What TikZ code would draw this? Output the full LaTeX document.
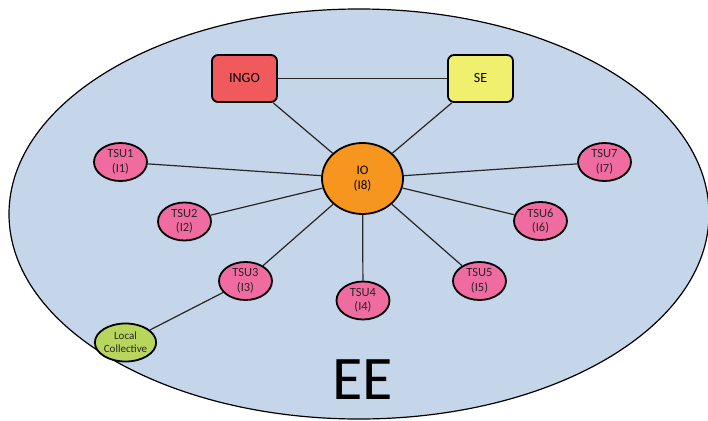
\documentclass[tikz,border=0pt]{standalone}
\usepackage{fontspec}
\setmainfont{Carlito}
\usetikzlibrary{shapes.geometric}
\definecolor{bgblue}{HTML}{C5D5EA}
\definecolor{tsupink}{HTML}{F06CA0}
\definecolor{ioorange}{HTML}{F7961F}
\definecolor{ingored}{HTML}{F05A5C}
\definecolor{seyellow}{HTML}{F0F06E}
\definecolor{lcgreen}{HTML}{B8D65C}
\begin{document}
\begin{tikzpicture}[x=1pt,y=-1pt,
  tsu/.style={ellipse,draw=black,line width=1.8pt,fill=tsupink,minimum width=53pt,minimum height=38pt,inner sep=0pt,align=center,font=\fontsize{12.5}{14.5}\selectfont,text=black!85},
  orgbox/.style={rectangle,rounded corners=6pt,draw=black,line width=1.8pt,minimum width=65pt,minimum height=47pt,inner sep=0pt,font=\fontsize{14}{16}\selectfont},
  link/.style={draw=black!85,line width=1.2pt}]
\useasboundingbox (0,0) rectangle (708,420);
\draw[fill=bgblue,draw=black,line width=1.2pt] (359,214) ellipse [x radius=350, y radius=205];
\node[orgbox,fill=ingored] (ingo) at (244.5,78.5) {INGO};
\node[orgbox,fill=seyellow] (se) at (480.5,78.5) {SE};
\node[ellipse,draw=black,line width=1.8pt,fill=ioorange,minimum width=81pt,minimum height=71pt,inner sep=0pt,align=center,font=\fontsize{13}{15.5}\selectfont] (io) at (362.5,178.5) {IO\\(I8)};
\node[tsu] (t1) at (120.5,162) {TSU1\\(I1)};
\node[tsu] (t2) at (184.5,221.5) {TSU2\\(I2)};
\node[tsu] (t3) at (245.5,281) {TSU3\\(I3)};
\node[tsu] (t4) at (363,300.5) {TSU4\\(I4)};
\node[tsu] (t5) at (479.5,281) {TSU5\\(I5)};
\node[tsu] (t6) at (540.5,221) {TSU6\\(I6)};
\node[tsu] (t7) at (604.5,162) {TSU7\\(I7)};
\node[tsu,fill=lcgreen,font=\fontsize{11}{13}\selectfont] (lc) at (125.5,342.5) {Local\\Collective};
\node[font=\fontsize{62}{62}\selectfont,inner sep=0pt] (ee) at (362.5,379.5) {EE};
\draw[link] (ingo) -- (se);
\draw[link] (ingo) -- (io);
\draw[link] (se) -- (io);
\foreach \t in {t1,t2,t3,t4,t5,t6,t7} {\draw[link] (io) -- (\t);}
\draw[link] (t3) -- (lc);
\end{tikzpicture}
\end{document}
